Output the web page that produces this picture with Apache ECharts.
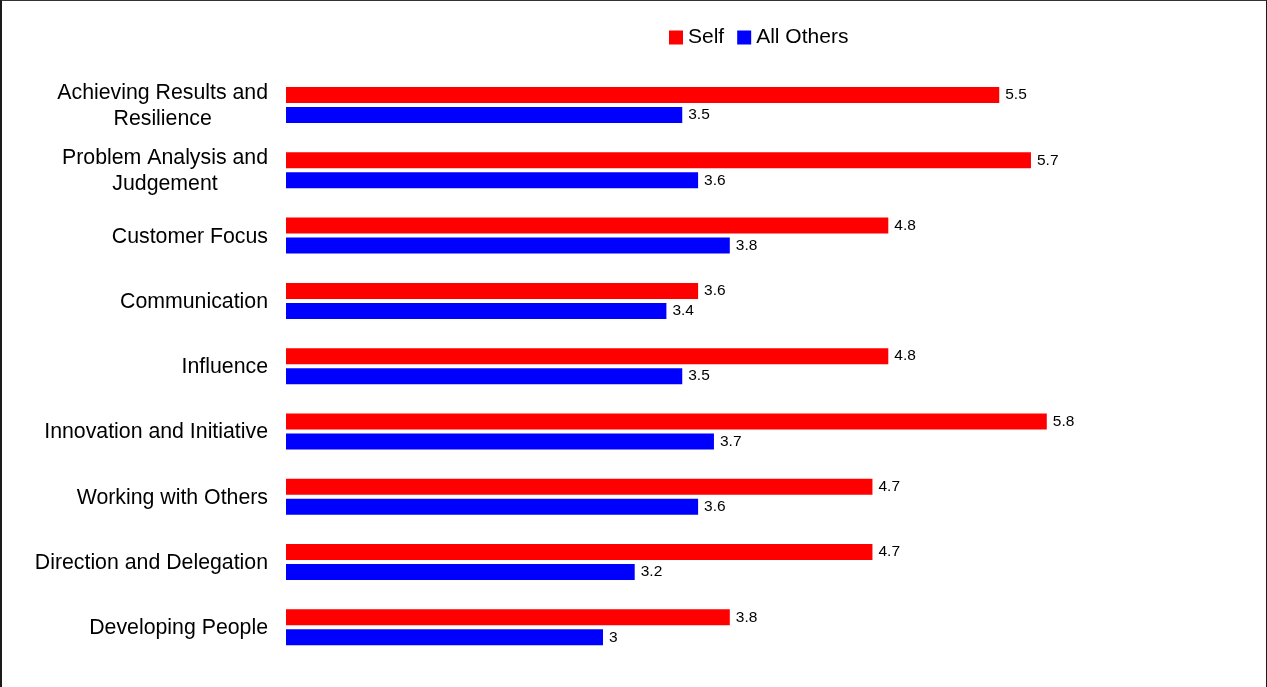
<!DOCTYPE html>
<html>
<head>
<meta charset="utf-8">
<script src="https://cdn.jsdelivr.net/npm/echarts@6/dist/echarts.min.js"></script>
<style>
html,body{margin:0;padding:0;background:#fff;}
#wrap{position:relative;width:1267px;height:687px;overflow:hidden;}
#chart{position:absolute;left:0;top:0;width:1267px;height:687px;}
#frame{position:absolute;left:0;top:0;width:1267px;height:700px;box-sizing:border-box;border-left:2px solid #1a1a1a;border-top:1px solid #333;border-right:1px solid #1a1a1a;pointer-events:none;}
</style>
</head>
<body>
<div id="wrap"><div id="chart"></div><div id="frame"></div></div>
<script>
const categories = [
  'Achieving Results and\nResilience',
  'Problem Analysis and\nJudgement',
  'Customer Focus',
  'Communication',
  'Influence',
  'Innovation and Initiative',
  'Working with Others',
  'Direction and Delegation',
  'Developing People'
];
const selfValues = [5.5, 5.7, 4.8, 3.6, 4.8, 5.8, 4.7, 4.7, 3.8];
const othersValues = [3.5, 3.6, 3.8, 3.4, 3.5, 3.7, 3.6, 3.2, 3];
const seriesNames = ['Self', 'All Others'];

const font = "'Liberation Sans', Arial, sans-serif";
const chart = echarts.init(document.getElementById('chart'));
chart.setOption({
  animation: false,
  backgroundColor: '#ffffff',
  legend: {
    left: 664, top: 22,
    itemWidth: 14, itemHeight: 14, itemGap: 13,
    icon: 'rect',
    textStyle: { fontFamily: font, fontSize: 21, color: '#000' },
    data: seriesNames
  },
  grid: { left: 286, right: 30, top: 72.4, bottom: 27, containLabel: false },
  xAxis: {
    type: 'value', min: 1, max: 7,
    show: false
  },
  yAxis: {
    type: 'category', inverse: true,
    data: categories,
    axisLine: { show: false }, axisTick: { show: false },
    axisLabel: {
      margin: 18,
      fontFamily: font, fontSize: 21.3, color: '#000',
      lineHeight: 26,
      padding: [2, 0, 0, 0],
      formatter: function (v) { return v.split('\n').map(s => '{c|' + s + '}').join('\n'); },
      rich: { c: { align: 'center', fontFamily: font, fontSize: 21.3, color: '#000', lineHeight: 26 } }
    }
  },
  series: [
    {
      name: seriesNames[0], type: 'bar', data: selfValues,
      barWidth: 16, barGap: '25%',
      itemStyle: { color: '#ff0000' },
      label: { show: true, position: 'right', distance: 6, fontFamily: font, fontSize: 15.5, color: '#000' }
    },
    {
      name: seriesNames[1], type: 'bar', data: othersValues,
      barWidth: 16, barGap: '25%',
      itemStyle: { color: '#0000ff' },
      label: { show: true, position: 'right', distance: 6, fontFamily: font, fontSize: 15.5, color: '#000' }
    }
  ]
});
</script>
</body>
</html>
